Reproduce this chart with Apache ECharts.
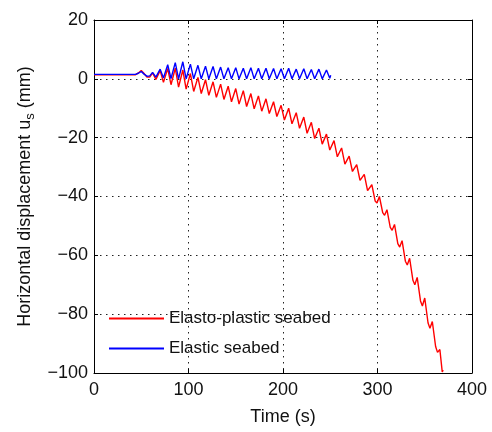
<!DOCTYPE html>
<html><head><meta charset="utf-8">
<script src="https://cdn.jsdelivr.net/npm/echarts@6/dist/echarts.min.js"></script>
<style>html,body{margin:0;padding:0;background:#fff}#c{width:492px;height:432px}</style>
</head><body><div id="c"></div>
<script>
const xTicks = [0, 100, 200, 300, 400];
const yTicks = [-100, -80, -60, -40, -20, 0, 20];
const seriesNames = ['Elasto-plastic seabed', 'Elastic seabed'];

const elastoPlastic = [
[0,1.4],[44,1.4],[47,2.0],[50,2.8],[53,1.8],[56,0.6],[59,0.6],
[62,2.0],[65.5,-0.2],[67.5,0.2],
[70,2.8],[73.5,-1.2],[75.5,-0.8],
[78,3.5],[81.5,-2.0],[83.5,-1.6],
[86,3.6],[89.5,-2.8],[91.5,-2.4],
[94,3.0],[97.5,-3.5],[99.5,-3.1],
[102,1.8],[105.5,-4.3],[107.5,-3.9],
[110,0.5],[113.5,-5.0],[115.5,-4.6],
[118,-0.3],[121.5,-5.6],[123.5,-5.2],
[126,-1.0],[129.5,-6.3],[131.5,-5.9],
[134,-1.8],[137.5,-7.0],[139.5,-6.6],
[142,-2.5],[145.5,-7.8],[147.5,-7.4],
[150,-3.3],[153.5,-8.6],[155.5,-8.2],
[158,-4.0],[161.5,-9.4],[163.5,-9.0],
[166,-5.0],[169.5,-10.2],[171.5,-9.8],
[174,-5.8],[177.5,-11.0],[179.5,-10.6],
[182,-6.8],[185.5,-11.8],[187.5,-11.5],
[190,-7.8],[193.5,-12.8],[195.5,-12.5],
[198,-9.0],[201.5,-14.0],[203.5,-13.8],
[206,-10.0],[209.5,-15.3],[211.5,-15.1],
[214,-11.5],[217.5,-16.8],[219.5,-16.6],
[222,-13.0],[225.5,-18.5],[227.5,-18.4],
[230,-14.8],[233.5,-20.3],[235.5,-20.2],
[238,-16.8],[241.5,-22.2],[243.5,-22.2],
[246,-18.8],[249.5,-24.2],[251.5,-24.3],
[254,-21.0],[257.5,-26.5],[259.5,-26.7],
[262,-23.5],[265.5,-29.0],[267.5,-29.3],
[270,-26.3],[273.5,-31.5],[275.5,-31.9],
[278,-29.2],[281.5,-34.5],[283.5,-35.0],
[286,-32.5],[289.5,-38.0],[291.5,-38.6],
[294,-36.0],[297.5,-41.5],[299.5,-42.2],
[302,-40.0],[305.5,-45.5],[307.5,-46.4],
[310,-44.5],[313.5,-50.5],[315.5,-51.5],
[318,-49.5],[321.5,-56.0],[323.5,-57.2],
[326,-55.0],[329.5,-62.0],[331.5,-63.3],
[334,-61.0],[337.5,-68.5],[339.5,-70.0],
[342,-67.5],[345.5,-75.5],[347.5,-77.2],
[350,-74.5],[353.5,-83.0],[355.5,-84.8],
[358,-82.5],[361.5,-91.0],[363.5,-93.0],
[366,-92.0],[368.5,-99.6],[369.5,-99.0]
];

const elastic = [
[0,1.5],[44,1.5],[47,1.9],[50,2.5],[53,1.6],[56,0.9],[59,1.0],
[62,2.2],[65.5,0.6],[67.5,0.8],
[70,3.3],[73.5,0.3],[75.5,0.5],
[78,4.8],[81.5,0.1],[83.5,0.4],
[86,5.5],[89.5,0.0],[91.5,0.3],
[94,5.8],[97.5,0.0],[99.5,0.3],
[102,5.0],[105.5,0.0],[107.5,0.3],
[110,4.6],[113.5,0.0],[115.5,0.3],
[118,4.3],[121.5,0.0],[123.5,0.3],
[126,4.2],[129.5,0.0],[131.5,0.3],
[134,4.0],[137.5,0.0],[139.5,0.3],
[142,3.8],[145.5,0.0],[147.5,0.3],
[150,3.8],[153.5,0.0],[155.5,0.3],
[158,3.6],[161.5,0.0],[163.5,0.3],
[166,3.8],[169.5,0.0],[171.5,0.3],
[174,3.6],[177.5,0.0],[179.5,0.3],
[182,3.6],[185.5,0.0],[187.5,0.3],
[190,3.5],[193.5,0.0],[195.5,0.3],
[198,3.4],[201.5,0.0],[203.5,0.3],
[206,3.6],[209.5,0.0],[211.5,0.3],
[214,3.3],[217.5,0.0],[219.5,0.3],
[222,3.4],[225.5,0.0],[227.5,0.3],
[230,3.2],[233.5,0.0],[235.5,0.3],
[238,3.3],[241.5,0.0],[243.5,0.3],
[246,3.0],[249.5,0.2],[250.5,1.2]
];

const fontFam = 'Liberation Sans, Arial, sans-serif';
const gridLine = {show:true, lineStyle:{color:'#222', type:[1.5,4.5], width:1}};
const axisLine = {show:true, onZero:false, lineStyle:{color:'#000', width:1}};
const tick = {show:true, inside:true, length:4, lineStyle:{color:'#000'}};
const minus = v => String(v).replace('-', '\u2212');

const chart = echarts.init(document.getElementById('c'), null, {renderer:'canvas'});
chart.setOption({
  animation:false,
  backgroundColor:'#fff',
  grid:{left:94, right:20, top:20, bottom:59, containLabel:false},
  legend:{
    left:104, top:305, orient:'vertical', itemGap:13, itemWidth:55, itemHeight:2,
    icon:'rect',
    textStyle:{fontFamily:fontFam, fontSize:17, color:'#111', padding:[0,0,0,0]},
    data: seriesNames
  },
  xAxis:[{
    type:'value', min:xTicks[0], max:xTicks[xTicks.length-1], interval:xTicks[1]-xTicks[0],
    name:'Time (s)', nameLocation:'middle', nameGap:35,
    nameTextStyle:{fontFamily:fontFam, fontSize:18, color:'#111'},
    axisLine:axisLine, axisTick:tick, splitLine:gridLine,
    axisLabel:{fontFamily:fontFam, fontSize:18, color:'#111', margin:8, formatter:minus}
  },{
    type:'value', position:'top', min:xTicks[0], max:xTicks[xTicks.length-1], interval:xTicks[1]-xTicks[0],
    axisLine:axisLine, axisTick:tick, splitLine:{show:false}, axisLabel:{show:false}
  }],
  yAxis:[{
    type:'value', min:yTicks[0], max:yTicks[yTicks.length-1], interval:yTicks[1]-yTicks[0],
    name:'Horizontal displacement u{sub|s} (mm)', nameLocation:'middle', nameGap:50, nameRotate:90,
    nameTextStyle:{fontFamily:fontFam, fontSize:18, color:'#111',
      rich:{sub:{fontFamily:fontFam, fontSize:13, color:'#111', verticalAlign:'bottom', padding:[10,0,0,0]}}},
    axisLine:axisLine, axisTick:tick, splitLine:gridLine,
    axisLabel:{fontFamily:fontFam, fontSize:18, color:'#111', margin:6, formatter:minus}
  },{
    type:'value', position:'right', min:yTicks[0], max:yTicks[yTicks.length-1], interval:yTicks[1]-yTicks[0],
    axisLine:axisLine, axisTick:tick, splitLine:{show:false}, axisLabel:{show:false}
  }],
  series:[
    {name:seriesNames[0], type:'line', data:elastoPlastic, showSymbol:false, symbol:'none',
     lineStyle:{color:'#ff0000', width:1.4}, itemStyle:{color:'#ff0000'}},
    {name:seriesNames[1], type:'line', data:elastic, showSymbol:false, symbol:'none',
     lineStyle:{color:'#0000ff', width:1.4}, itemStyle:{color:'#0000ff'}}
  ]
});
</script></body></html>
